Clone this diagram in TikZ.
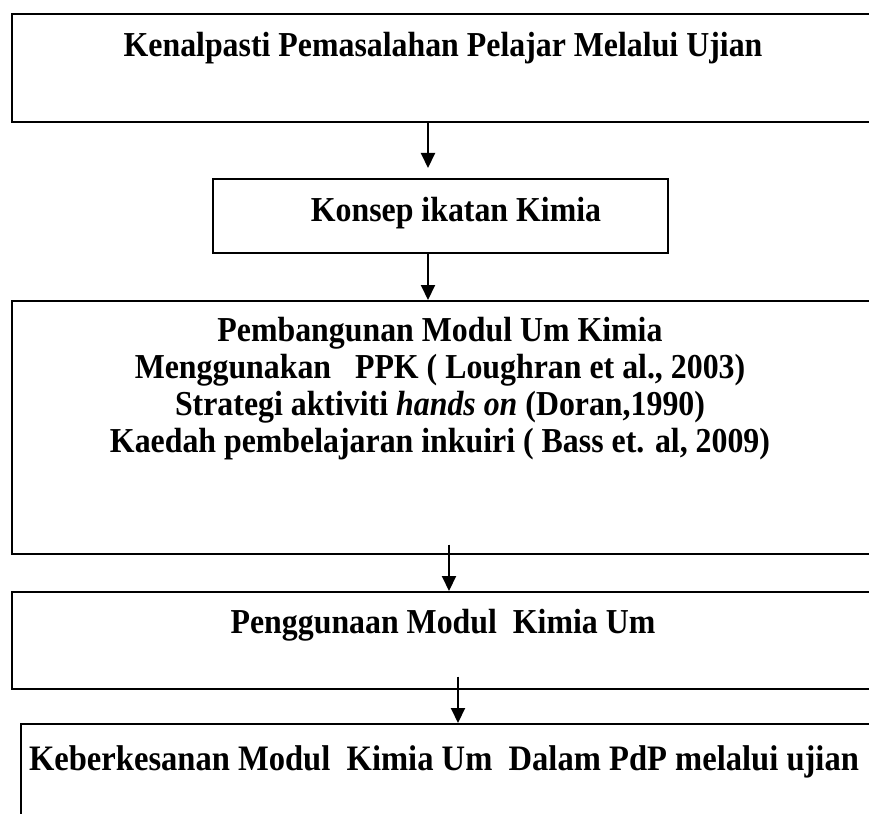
\documentclass[tikz,border=0pt]{standalone}
\usepackage{fontspec}
\setmainfont{Liberation Serif}
\newfontfamily\tallserif[FakeStretch=0.91]{Liberation Serif}
\usepackage{tikz}
\usetikzlibrary{calc}
\usetikzlibrary{arrows.meta}
\usetikzlibrary{positioning}

\begin{document}
\begin{tikzpicture}[x=1pt,y=1pt]
% 1 = 1px of the page, y runs downwards
    \def\XLEFT{11}
    \def\XLEFTFIVE{20}
    \def\WIDE{900} %boxes run past the right edge
    \def\TEXTX{444}

    \def\YONE{-13}
    \def\YTWO{-178}
    \def\YTHREE{-300}
    \def\YFOUR{-591}
    \def\YFIVE{-723}

    \tikzset{
      box/.style={draw, line width=1.7pt, inner sep=0pt, anchor=north west},
      boxtext/.style={font=\tallserif\fontsize{35pt}{37pt}\selectfont\bfseries,
        inner sep=0pt, align=center},
      flow/.style={-{Triangle[width=14pt,length=15pt]}, line width=2pt},
    }

    \useasboundingbox (0,0) rectangle (869,-813);
    \clip (0,0) rectangle (869,-813);

    % FIRST BOX
    \node [box, minimum width=\WIDE, minimum height=108] (boxone)
        at (\XLEFT,\YONE) {};
    \node [boxtext, anchor=base] (textone) at (443,-57)
        {Kenalpasti Pemasalahan Pelajar Melalui Ujian};

    % SECOND BOX
    \node [box, minimum width=455, minimum height=74] (boxtwo)
        at (212,\YTWO) {};
    \node [boxtext, anchor=base] (texttwo) at (456,-221)
        {Konsep ikatan Kimia};

    % THIRD BOX
    \node [box, minimum width=\WIDE, minimum height=253] (boxthree)
        at (\XLEFT,\YTHREE) {};
    \node [boxtext, anchor=north] (textthree) at (440,-317)
        {Pembangunan Modul Um Kimia\\
         Menggunakan\ \ \ PPK ( Loughran et al., 2003)\\
         Strategi aktiviti \textit{hands on} (Doran,1990)\\
         Kaedah pembelajaran inkuiri ( Bass et. al, 2009)};

    % FOURTH BOX
    \node [box, minimum width=\WIDE, minimum height=97] (boxfour)
        at (\XLEFT,\YFOUR) {};
    \node [boxtext, anchor=base] (textfour) at (443,-633)
        {Penggunaan Modul\ \ Kimia Um};

    % FIFTH BOX
    \node [box, minimum width=\WIDE, minimum height=150] (boxfive)
        at (\XLEFTFIVE,\YFIVE) {};
    \node [boxtext, anchor=base,
        font=\tallserif\fontsize{35.8pt}{37pt}\selectfont\bfseries] (textfive)
        at (\TEXTX,-770)
        {Keberkesanan Modul\ \ Kimia Um\ \ Dalam PdP melalui ujian};

    % ARROWS
    \coordinate (arrowone) at (428,0);
    \coordinate (arrowtwo) at (428,0);
    \coordinate (arrowthree) at (449,0);
    \coordinate (arrowfour) at (458,0);

    \draw [flow] (boxone.south -| arrowone)
        -- ($(boxtwo.north -| arrowone)+(0,10)$);
    \draw [flow] (boxtwo.south -| arrowtwo) -- (boxthree.north -| arrowtwo);
    \draw [flow] ($(boxthree.south -| arrowthree)+(0,10)$)
        -- (boxfour.north -| arrowthree);
    \draw [flow] ($(boxfour.south -| arrowfour)+(0,13)$)
        -- (boxfive.north -| arrowfour);

\end{tikzpicture}
\end{document}
